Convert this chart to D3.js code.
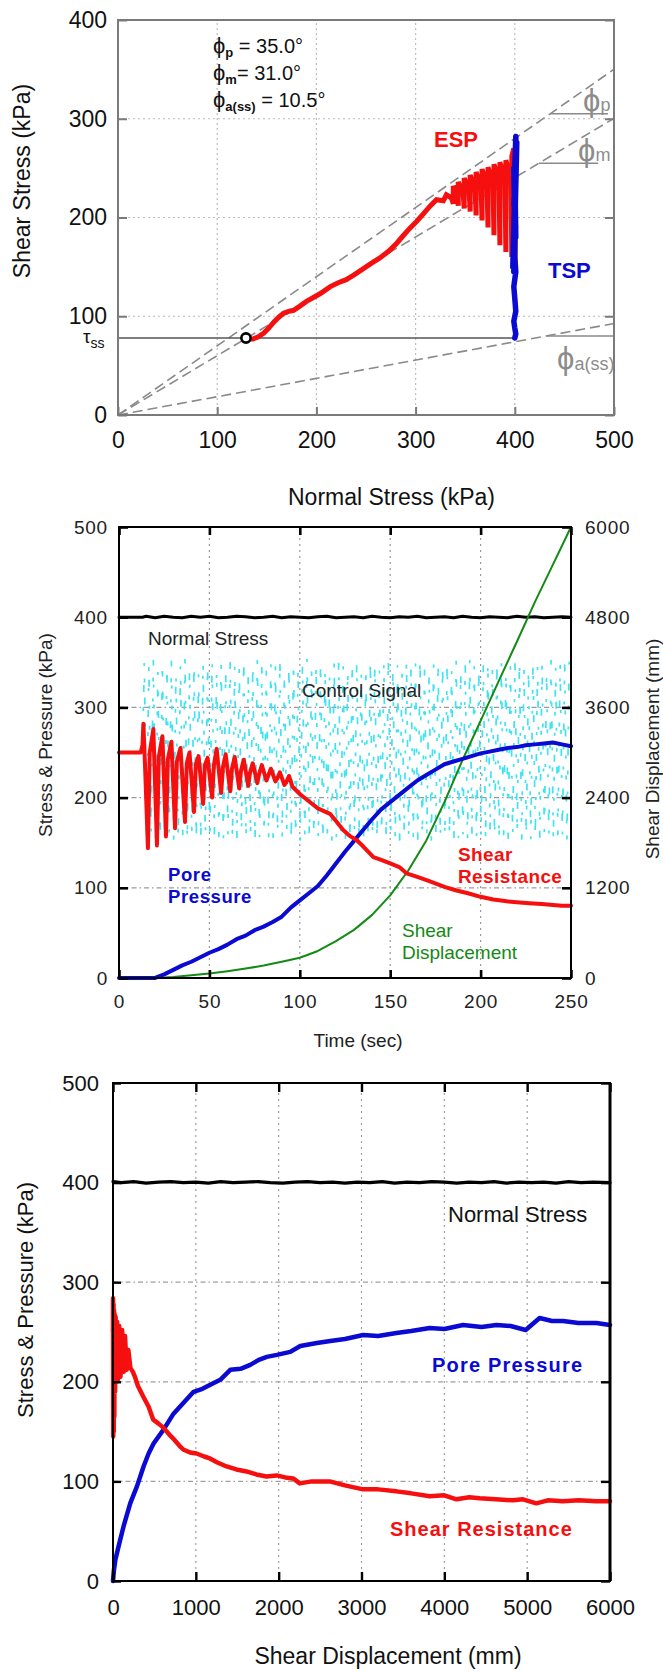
<!DOCTYPE html>
<html>
<head>
<meta charset="utf-8">
<script src="https://cdn.jsdelivr.net/npm/d3@7"></script>
<style>
  body { margin: 0; background: #fff; }
  svg { display: block; font-family: Arial, "Liberation Sans", sans-serif; }
</style>
</head>
<body>
<svg id="chart" width="663" height="1672"></svg>
<script>
// ---------------- Stress path (top) ----------------
const normalTicks = [0, 100, 200, 300, 400, 500];
const shearTicks = [0, 100, 200, 300, 400];
const frictionAngles = [35.0, 31.0, 10.5];          // phi_p, phi_m, phi_a(ss)
const angleSubs = ["p", "m", "a(ss)"];
const angleRefLevel = [305, 255, 80];                // where the angle marker sits
const angleRefEnd = [494, 484, 499];
const tauSS = 78;
const steadyNormal = 129;

// effective stress path (sigma', tau)
const espSigma = [400, 401, 400, 399, 397, 397, 396, 391, 391, 390, 385, 385, 384, 379, 379, 378, 373, 373, 372,
  367, 367, 366, 361, 361, 360, 355, 355, 354, 349, 349, 348, 343, 343, 342, 338, 338, 336, 331, 328, 321,
  315, 308, 301, 294, 287, 281, 273, 264, 256, 247, 238, 230, 222, 214, 204, 197, 190, 183, 177, 172, 167,
  162, 157, 152, 147, 141, 136, 132, 129];
const espTau = [250, 282, 146, 270, 262, 160, 240, 258, 165, 238, 256, 172, 236, 254, 182, 234, 251, 190, 232,
  249, 197, 230, 246, 202, 228, 243, 206, 226, 240, 209, 224, 236, 212, 222, 232, 214, 220, 223, 217, 218,
  212, 204, 196, 189, 181, 174, 166, 159, 154, 148, 142, 137, 134, 130, 123, 119, 115, 110, 106, 105, 103,
  99, 94, 88, 83, 79, 77, 77, 78];

// total stress path
const tspSigma = [400, 401, 399, 402, 398, 401, 400, 401, 399, 400, 401, 399, 400, 401, 399, 400, 401, 399, 400, 401, 399, 400, 401, 399, 400, 401, 400];
const tspTau = [250, 282, 145, 276, 150, 268, 160, 262, 170, 255, 180, 250, 200, 240, 215, 205, 190, 175, 160, 145, 130, 118, 105, 95, 88, 82, 78];

// ---------------- Time histories (middle) ----------------
const timeTicks = [0, 50, 100, 150, 200, 250];
const pressureTicks = [0, 100, 200, 300, 400, 500];
const dispTicksRight = [0, 1200, 2400, 3600, 4800, 6000];

const normalTime = [0, 5, 10, 13, 15, 20, 25, 30, 35, 40, 45, 50, 55, 60, 65, 70, 75, 80, 85, 90, 95, 100, 105, 110, 115, 120,
  125, 130, 135, 140, 145, 150, 155, 160, 165, 170, 175, 180, 185, 190, 195, 200, 205, 210, 215, 220, 225, 230, 235, 240, 245, 250];
const normalValue = [400, 400, 400, 400, 401, 399.5, 401, 400, 399.5, 401, 400, 401, 399.5, 400, 401, 400.5, 399.5, 400, 401, 399.5, 400.5, 400,
  399.5, 400.5, 401, 399.5, 400, 400.5, 399.5, 401, 400, 399.5, 400.5, 400, 401, 399.5, 400, 400.5, 399.5, 401, 400, 399.5, 400.5, 400, 399.5, 401, 400, 400.5, 399.5, 400, 400.5, 400];

const shearTime = [0, 12, 13, 13.5, 14.5, 16, 17, 19, 21, 22, 24, 26, 27, 29, 31, 32, 34, 36.5, 37.5, 39, 41.5, 42.5, 44, 46.5, 47.5, 49,
  51.5, 52.5, 54, 56.5, 57.5, 59, 61.5, 62.5, 64, 66.5, 67.5, 69, 71.5, 72.5, 74, 76.5, 77.5, 79, 81.5, 82.5, 84, 86.5, 87.5, 89,
  91.5, 92.5, 94, 96, 100, 105, 110, 116.7, 120, 124, 128, 131.4, 135, 140.7, 145, 150, 155, 159, 165, 172, 180, 186.7, 193, 200,
  207, 214.5, 220, 227, 234, 240, 245, 250];
const shearValue = [250, 250, 258, 282, 230, 144, 250, 276, 147, 245, 268, 157, 242, 262, 166, 240, 255, 173, 238, 250, 184, 237, 246, 193, 236, 244,
  200, 236, 254, 205, 234, 248, 207, 232, 245, 210, 230, 242, 213, 228, 238, 216, 226, 236, 219, 224, 232, 218, 221, 228,
  214, 217, 224, 212, 204, 196, 188, 182, 174, 164, 157, 153, 146, 134, 131, 127, 123, 116, 112, 107, 101, 97, 94, 90,
  87, 85, 84, 83, 82, 81, 80, 80];

const poreTime = [0, 20, 21, 25, 30, 35, 40, 45, 50, 55, 60, 65, 70, 75, 80, 85, 90, 95, 100, 105, 110, 115, 120, 125, 130, 135, 140,
  145, 150, 155, 160, 165, 170, 175, 180, 185, 190, 195, 200, 205, 210, 215, 220, 225, 230, 235, 240, 245, 250];
const poreValue = [0, 0, 1, 4, 9, 14, 18, 23, 28, 32, 37, 43, 47, 53, 57, 62, 68, 78, 86, 94, 102, 114, 127, 140, 152, 164, 176,
  187, 195, 203, 211, 219, 225, 231, 237, 240, 243, 246, 249, 251, 253, 255, 256, 258, 259, 260, 261, 259, 257];

const dispTime = [0, 20, 30, 40, 50, 60, 70, 80, 90, 100, 110, 120, 130, 140, 150, 160, 170, 180, 190, 200, 210, 220, 230, 240, 250];
const dispValue = [0, 0, 12, 35, 60, 90, 125, 165, 215, 270, 360, 490, 640, 840, 1100, 1430, 1830, 2340, 2900, 3420, 3950, 4470, 5000, 5500, 6000];

// control signal: level before cycling, then one crest and one trough per sampling period
const controlLead = [[0, 250], [13, 250]];
const controlStart = 14;
const controlPeriod = 2.5;
const controlHigh = [350, 346, 352, 340, 349, 344, 351, 338, 347, 353, 342, 348, 336, 350, 345, 352, 341, 347, 339, 351,
  346, 343, 350, 337, 348, 352, 344, 340, 349, 346, 351, 338, 345, 350, 342, 348, 353, 339, 346, 350,
  343, 337, 349, 352, 345, 341, 348, 350, 338, 344, 351, 347, 340, 349, 353, 343, 346, 339, 350, 345,
  348, 352, 341, 337, 347, 350, 344, 349, 342, 351, 338, 346, 352, 345, 340, 348, 350, 343, 347, 351,
  339, 345, 349, 352, 344, 341, 350, 346, 348, 338, 352, 345, 349, 347, 351];
const controlLow = [156, 160, 153, 158, 155, 162, 154, 157, 159, 153, 161, 156, 155, 158, 153, 160, 157, 154, 159, 156,
  153, 161, 155, 158, 154, 157, 160, 153, 156, 159, 155, 162, 154, 157, 153, 160, 156, 158, 154, 155,
  161, 153, 157, 159, 155, 154, 160, 156, 153, 158, 157, 155, 162, 154, 159, 156, 153, 160, 155, 157,
  154, 158, 156, 153, 161, 155, 157, 159, 154, 156, 160, 153, 158, 155, 157, 154, 161, 156, 153, 159,
  155, 157, 160, 154, 156, 153, 158, 155, 161, 157, 154, 159, 156, 153, 158];

// ---------------- Versus shear displacement (bottom) ----------------
const dispTicks = [0, 1000, 2000, 3000, 4000, 5000, 6000];

const normDisp = [0, 100, 250, 400, 550, 700, 850, 1000, 1150, 1300, 1450, 1600, 1750, 1900, 2050, 2200, 2350, 2500, 2650, 2800,
  2950, 3100, 3250, 3400, 3550, 3700, 3850, 4000, 4150, 4300, 4450, 4600, 4750, 4900, 5050, 5200, 5350, 5500, 5650, 5800, 6000];
const normStress = [401, 400, 401, 399.5, 400.5, 401, 400, 400.5, 399.5, 401, 400, 400.5, 401, 400, 399.5, 400.5, 401, 400, 400.5, 399.5,
  400.5, 400, 401, 399.5, 400.5, 400, 401, 400.5, 399.5, 400.5, 400, 401, 399.5, 400.5, 400, 400.5, 399.5, 401, 400, 400.5, 400];

const shearDisp = [0, 1, 3, 6, 9, 12, 16, 20, 25, 32, 40, 50, 60, 75, 90, 110, 130, 145, 165, 185, 210, 240, 265, 300, 366, 430,
  486, 550, 607, 680, 727, 800, 848, 930, 1009, 1100, 1170, 1260, 1371, 1490, 1612, 1730, 1853, 1974, 2080, 2175, 2255, 2400,
  2617, 2800, 3020, 3200, 3422, 3600, 3824, 4000, 4146, 4300, 4428, 4620, 4829, 4950, 5110, 5250, 5432, 5620, 5834, 6000];
const shearStress = [250, 284, 145, 278, 150, 272, 165, 268, 190, 265, 200, 260, 202, 256, 205, 252, 210, 246, 212, 232, 214, 210, 205, 196, 185, 175,
  162, 158, 154, 147, 143, 136, 132, 129, 128, 125, 123, 119, 115, 112, 110, 107, 105, 106, 104, 103, 98, 100,
  100, 96, 92, 92, 90, 88, 85, 86, 82, 84, 83, 82, 81, 82, 78, 81, 80, 81, 80, 80];

const poreDisp = [0, 10, 28, 68, 128, 208, 289, 369, 430, 490, 610, 731, 852, 973, 1080, 1174, 1295, 1416, 1540, 1657, 1760, 1857,
  1978, 2140, 2261, 2462, 2623, 2800, 3020, 3200, 3422, 3600, 3824, 4000, 4226, 4450, 4628, 4800, 4982, 5150, 5300, 5432, 5620, 5834, 6000];
const porePressure = [0, 10, 21, 35, 55, 78, 95, 115, 128, 138, 152, 168, 179, 190, 193, 197, 202, 212, 213, 217, 222, 225,
  227, 230, 236, 239, 241, 243, 247, 246, 249, 251, 254, 253, 257, 255, 257, 256, 252, 264, 261, 261, 259, 259, 257];

// ---------------- drawing ----------------
const svg = d3.select("#chart");
const RED = "#f50f0f", BLUE = "#0a0ad2", GREEN = "#138a13", CYAN = "#3fe3f2";
const intFormat = d3.format("d");

function pathOf(xs, ys, sx, sy) {
  return d3.line().x((d, i) => sx(xs[i])).y((d, i) => sy(ys[i]))(xs);
}
function plotLine(g, xs, ys, sx, sy, color, width) {
  return g.append("path")
    .attr("d", pathOf(xs, ys, sx, sy))
    .attr("fill", "none").attr("stroke", color).attr("stroke-width", width)
    .attr("stroke-linejoin", "round").attr("stroke-linecap", "round");
}
function styleAxis(g, o) {
  g.attr("font-size", null).attr("font-family", null);
  g.select(".domain").remove();
  g.selectAll(".tick line").attr("stroke", o.tick).attr("stroke-width", o.tickWidth);
  g.selectAll(".tick text").attr("fill", o.text).attr("font-size", o.size)
    .style("letter-spacing", (o.spacing || 0) + "px");
}
function gridLines(g, values, sx, sy, vertical, color, dash) {
  g.append("g").selectAll("line").data(values).join("line")
    .attr("x1", d => vertical ? sx(d) : sx.range()[0])
    .attr("x2", d => vertical ? sx(d) : sx.range()[1])
    .attr("y1", d => vertical ? sy.range()[0] : sy(d))
    .attr("y2", d => vertical ? sy.range()[1] : sy(d))
    .attr("stroke", color).attr("stroke-width", 1.2).attr("stroke-dasharray", dash);
}

// ===== top: stress path =====
const xT = d3.scaleLinear().domain([0, 500]).range([118, 614]);
const yT = d3.scaleLinear().domain([0, 400]).range([415, 20]);
const gT = svg.append("g");

gridLines(gT, normalTicks.slice(1, -1), xT, yT, true, "#bdbdbd", "2,3");
gridLines(gT, shearTicks.slice(1, -1), xT, yT, false, "#bdbdbd", "2,3");

// friction envelopes from the origin
frictionAngles.forEach(a => {
  const t = Math.tan(a * Math.PI / 180);
  gT.append("line")
    .attr("x1", xT(0)).attr("y1", yT(0)).attr("x2", xT(500)).attr("y2", yT(500 * t))
    .attr("stroke", "#8a8a8a").attr("stroke-width", 1.6).attr("stroke-dasharray", "10,5");
});
// angle markers
frictionAngles.forEach((a, i) => {
  const t = Math.tan(a * Math.PI / 180);
  gT.append("line")
    .attr("x1", xT(angleRefLevel[i] / t)).attr("x2", xT(angleRefEnd[i]))
    .attr("y1", yT(angleRefLevel[i])).attr("y2", yT(angleRefLevel[i]))
    .attr("stroke", "#8a8a8a").attr("stroke-width", 1.6);
});
// steady-state shear line
gT.append("line").attr("x1", xT(0)).attr("x2", xT(400)).attr("y1", yT(tauSS)).attr("y2", yT(tauSS))
  .attr("stroke", "#555").attr("stroke-width", 1.6);

plotLine(gT, espSigma, espTau, xT, yT, RED, 5).attr("stroke-linejoin", "miter");
plotLine(gT, tspSigma, tspTau, xT, yT, BLUE, 5.5);
gT.append("circle").attr("cx", xT(steadyNormal)).attr("cy", yT(tauSS)).attr("r", 4.6)
  .attr("fill", "#fff").attr("stroke", "#000").attr("stroke-width", 2.6);

// frame
gT.append("rect").attr("x", xT(0)).attr("y", yT(400)).attr("width", xT(500) - xT(0)).attr("height", yT(0) - yT(400))
  .attr("fill", "none").attr("stroke", "#7a7a7a").attr("stroke-width", 2);

const tOpt = { tick: "#7a7a7a", tickWidth: 2, text: "#111", size: 23 };
gT.append("g").attr("transform", `translate(0,${yT(0)})`)
  .call(d3.axisBottom(xT).tickValues(normalTicks).tickFormat(intFormat).tickSizeInner(-8).tickSizeOuter(0).tickPadding(17))
  .call(styleAxis, tOpt);
gT.append("g").attr("transform", `translate(${xT(0)},0)`)
  .call(d3.axisLeft(yT).tickValues(shearTicks).tickFormat(intFormat).tickSizeInner(-9).tickSizeOuter(0).tickPadding(11))
  .call(styleAxis, tOpt);
gT.append("g").attr("transform", `translate(${xT(500)},0)`)
  .call(d3.axisRight(yT).tickValues(shearTicks).tickSizeInner(-9).tickSizeOuter(0).tickFormat(""))
  .call(styleAxis, tOpt);

gT.append("text").attr("x", 288).attr("y", 505).attr("font-size", 23).attr("fill", "#111").text("Normal Stress (kPa)");
gT.append("text").attr("transform", "translate(30,181) rotate(-90)").attr("text-anchor", "middle")
  .attr("font-size", 23).attr("fill", "#111").text("Shear Stress (kPa)");

// tau_ss label
const tss = gT.append("text").attr("x", 83).attr("y", yT(tauSS) + 5).attr("font-size", 19).attr("fill", "#111");
tss.append("tspan").text("τ");
tss.append("tspan").attr("font-size", 14).attr("dy", 5).text("ss");

// friction angle summary
const noteSep = [" = ", "= ", " = "];
frictionAngles.forEach((a, i) => {
  const t = gT.append("text").attr("x", 213).attr("y", 53 + i * 27).attr("font-size", 20).attr("fill", "#111");
  t.append("tspan").attr("font-size", 22).text("ϕ");
  t.append("tspan").attr("font-size", 13).attr("font-weight", "bold").attr("dy", 4).text(angleSubs[i]);
  t.append("tspan").attr("dy", -4).text(noteSep[i] + a.toFixed(1) + "°");
});

// angle symbols at the right edge
const angleLabelPos = [[583, 111], [578, 161], [557, 369]];
angleSubs.forEach((s, i) => {
  const t = gT.append("text").attr("x", angleLabelPos[i][0]).attr("y", angleLabelPos[i][1])
    .attr("fill", "#8c8c8c").attr("font-size", 31);
  t.append("tspan").text("ϕ");
  t.append("tspan").attr("font-size", 18).attr("dy", i === 2 ? 1 : 0).text(s);
});

gT.append("text").attr("x", 434).attr("y", 147).attr("font-size", 22).attr("font-weight", "bold").attr("fill", RED).text("ESP");
gT.append("text").attr("x", 548).attr("y", 278).attr("font-size", 22).attr("font-weight", "bold").attr("fill", BLUE).text("TSP");

// ===== middle: time histories =====
const xM = d3.scaleLinear().domain([0, 250]).range([119, 571]);
const yM = d3.scaleLinear().domain([0, 500]).range([978, 527]);
const yM2 = d3.scaleLinear().domain([0, 6000]).range([978, 527]);
const gM = svg.append("g");

gridLines(gM, timeTicks.slice(1, -1), xM, yM, true, "#9a9a9a", "2,4");
gridLines(gM, pressureTicks.slice(1, -1), xM, yM, false, "#9a9a9a", "5,3,1.5,3");

// control signal
const ctrlPts = controlLead.slice();
controlHigh.forEach((h, i) => {
  const t0 = controlStart + i * controlPeriod;
  ctrlPts.push([t0, h]);
  ctrlPts.push([t0 + controlPeriod / 2, controlLow[i]]);
});
const ctrlKeep = ctrlPts.filter(d => d[0] <= 250);
plotLine(gM, ctrlKeep.map(d => d[0]), ctrlKeep.map(d => d[1]), xM, yM, CYAN, 1.7)
  .attr("stroke-dasharray", "4,15,7,19,3,17").attr("stroke-linecap", "butt");

plotLine(gM, normalTime, normalValue, xM, yM, "#000", 3);
plotLine(gM, dispTime, dispValue, xM, yM2, GREEN, 2);
plotLine(gM, poreTime, poreValue, xM, yM, BLUE, 4);
plotLine(gM, shearTime, shearValue, xM, yM, RED, 4);

gM.append("rect").attr("x", xM(0)).attr("y", yM(500)).attr("width", xM(250) - xM(0)).attr("height", yM(0) - yM(500))
  .attr("fill", "none").attr("stroke", "#000").attr("stroke-width", 2);

const mOpt = { tick: "#000", tickWidth: 2.6, text: "#222", size: 19, spacing: 0.8 };
gM.append("g").attr("transform", `translate(0,${yM(0)})`)
  .call(d3.axisBottom(xM).tickValues(timeTicks).tickFormat(intFormat).tickSizeInner(-8).tickSizeOuter(0).tickPadding(17))
  .call(styleAxis, mOpt);
gM.append("g").attr("transform", `translate(0,${yM(500)})`)
  .call(d3.axisTop(xM).tickValues(timeTicks).tickSizeInner(-8).tickSizeOuter(0).tickFormat(""))
  .call(styleAxis, mOpt);
gM.append("g").attr("transform", `translate(${xM(0)},0)`)
  .call(d3.axisLeft(yM).tickValues(pressureTicks).tickFormat(intFormat).tickSizeInner(-9).tickSizeOuter(0).tickPadding(11))
  .call(styleAxis, mOpt);
gM.append("g").attr("transform", `translate(${xM(250)},0)`)
  .call(d3.axisRight(yM2).tickValues(dispTicksRight).tickFormat(intFormat).tickSizeInner(-9).tickSizeOuter(0).tickPadding(14))
  .call(styleAxis, mOpt);

gM.append("text").attr("x", 358).attr("y", 1047).attr("text-anchor", "middle").attr("font-size", 19).attr("fill", "#222").text("Time (sec)");
gM.append("text").attr("transform", "translate(52,735) rotate(-90)").attr("text-anchor", "middle")
  .attr("font-size", 19).attr("fill", "#222").text("Stress & Pressure (kPa)");
gM.append("text").attr("transform", "translate(659,749) rotate(-90)").attr("text-anchor", "middle")
  .attr("font-size", 19).attr("fill", "#222").text("Shear Displacement (mm)");

gM.append("text").attr("x", 148).attr("y", 645).attr("font-size", 19).attr("fill", "#222").text("Normal Stress");
gM.append("text").attr("x", 302).attr("y", 697).attr("font-size", 19).attr("fill", "#222").text("Control Signal");
const mBlue = gM.append("text").attr("font-size", 18.5).attr("font-weight", "bold").attr("fill", BLUE).style("letter-spacing", "0.6px");
mBlue.append("tspan").attr("x", 168).attr("y", 881).text("Pore");
mBlue.append("tspan").attr("x", 168).attr("y", 903).text("Pressure");
const mRed = gM.append("text").attr("font-size", 19).attr("font-weight", "bold").attr("fill", RED).style("letter-spacing", "0.4px");
mRed.append("tspan").attr("x", 458).attr("y", 861).text("Shear");
mRed.append("tspan").attr("x", 458).attr("y", 883).text("Resistance");
const mGreen = gM.append("text").attr("font-size", 19).attr("fill", GREEN);
mGreen.append("tspan").attr("x", 402).attr("y", 937).text("Shear");
mGreen.append("tspan").attr("x", 402).attr("y", 959).text("Displacement");

// ===== bottom: versus shear displacement =====
const xB = d3.scaleLinear().domain([0, 6000]).range([113, 610]);
const yB = d3.scaleLinear().domain([0, 500]).range([1581, 1083]);
const gB = svg.append("g");

gridLines(gB, dispTicks.slice(1, -1), xB, yB, true, "#a0a0a0", "2,4");
gridLines(gB, pressureTicks.slice(1, -1), xB, yB, false, "#a0a0a0", "5,3,1.5,3");

plotLine(gB, normDisp, normStress, xB, yB, "#000", 3.2);
plotLine(gB, poreDisp, porePressure, xB, yB, BLUE, 4.5);
plotLine(gB, shearDisp, shearStress, xB, yB, RED, 4.5);

gB.append("rect").attr("x", xB(0)).attr("y", yB(500)).attr("width", xB(6000) - xB(0)).attr("height", yB(0) - yB(500))
  .attr("fill", "none").attr("stroke", "#000").attr("stroke-width", 2);
gB.append("line").attr("x1", xB(6000)).attr("x2", xB(6000)).attr("y1", yB(500)).attr("y2", yB(0))
  .attr("stroke", "#000").attr("stroke-width", 3);

const bOpt = { tick: "#000", tickWidth: 2.4, text: "#111", size: 22 };
gB.append("g").attr("transform", `translate(0,${yB(0)})`)
  .call(d3.axisBottom(xB).tickValues(dispTicks).tickFormat(intFormat).tickSizeInner(-9).tickSizeOuter(0).tickPadding(18))
  .call(styleAxis, bOpt);
gB.append("g").attr("transform", `translate(0,${yB(500)})`)
  .call(d3.axisTop(xB).tickValues(dispTicks).tickSizeInner(-9).tickSizeOuter(0).tickFormat(""))
  .call(styleAxis, bOpt);
gB.append("g").attr("transform", `translate(${xB(0)},0)`)
  .call(d3.axisLeft(yB).tickValues(pressureTicks).tickFormat(intFormat).tickSizeInner(-8).tickSizeOuter(0).tickPadding(14))
  .call(styleAxis, bOpt);
gB.append("g").attr("transform", `translate(${xB(6000)},0)`)
  .call(d3.axisRight(yB).tickValues(pressureTicks).tickSizeInner(-9).tickSizeOuter(0).tickFormat(""))
  .call(styleAxis, bOpt);

gB.append("text").attr("x", 388).attr("y", 1664).attr("text-anchor", "middle").attr("font-size", 23).attr("fill", "#111").text("Shear Displacement (mm)");
gB.append("text").attr("transform", "translate(33,1300) rotate(-90)").attr("text-anchor", "middle")
  .attr("font-size", 22).attr("fill", "#111").text("Stress & Pressure (kPa)");

gB.append("text").attr("x", 448).attr("y", 1222).attr("font-size", 22).attr("fill", "#111").text("Normal Stress");
gB.append("text").attr("x", 432).attr("y", 1372).attr("font-size", 20).attr("font-weight", "bold").attr("fill", BLUE)
  .style("letter-spacing", "1.2px").text("Pore Pressure");
gB.append("text").attr("x", 390).attr("y", 1536).attr("font-size", 20).attr("font-weight", "bold").attr("fill", RED)
  .style("letter-spacing", "1px").text("Shear Resistance");
</script>
</body>
</html>
